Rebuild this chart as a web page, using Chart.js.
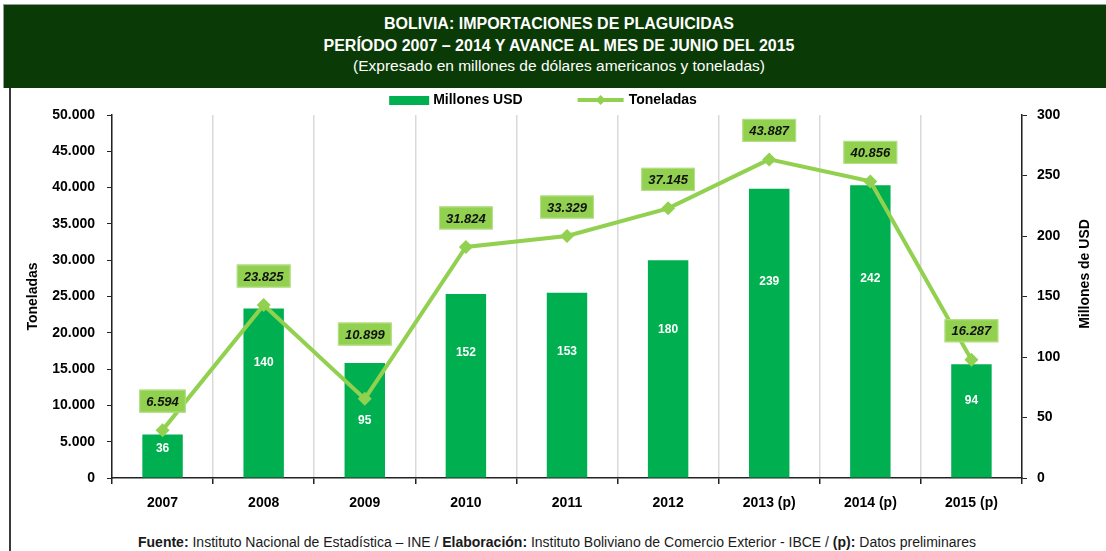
<!DOCTYPE html>
<html>
<head>
<meta charset="utf-8">
<script src="https://cdn.jsdelivr.net/npm/chart.js@4.4.1/dist/chart.umd.min.js"></script>
<style>
  body { margin: 0; background: #fff; font-family: 'Liberation Sans', Arial, sans-serif; }
  .page { position: relative; width: 1106px; height: 551px; overflow: hidden; }
  .header {
    position: absolute; left: 3px; top: 4px; width: 1110px; height: 83px;
    background: #0a3a05; color: #fff; text-align: center;
    border-top: 1px solid #9a9a9a; border-left: 1px solid #9a9a9a;
  }
  .header .t1 { font-weight: bold; font-size: 16px; margin-top: 8px; line-height: 22px; }
  .header .t2 { font-size: 15.5px; line-height: 18px; }
  .frame { position: absolute; left: 9px; top: 88px; width: 2px; height: 463px; background: #3a3a3a; }
  .chart-box { position: absolute; left: 0; top: 88px; width: 1106px; height: 430px; }
  .footer {
    position: absolute; left: 0; top: 534px; width: 1114px; text-align: center;
    font-size: 14px; color: #1a1a1a;
  }
</style>
</head>
<body>
<div class="page">
  <div class="header">
    <div class="t1">BOLIVIA: IMPORTACIONES DE PLAGUICIDAS<br>PERÍODO 2007 – 2014 Y AVANCE AL MES DE JUNIO DEL 2015</div>
    <div class="t2">(Expresado en millones de dólares americanos y toneladas)</div>
  </div>
  <div class="frame"></div>
  <div class="chart-box"><canvas id="plaguicidas-chart" width="1106" height="430"></canvas></div>
  <div class="footer"><b>Fuente:</b> Instituto Nacional de Estadística – INE / <b>Elaboración:</b> Instituto Boliviano de Comercio Exterior - IBCE / <b>(p):</b> Datos preliminares</div>
</div>

<script>
// data
var years = ['2007', '2008', '2009', '2010', '2011', '2012', '2013 (p)', '2014 (p)', '2015 (p)'];
var millonesUSD = [36, 140, 95, 152, 153, 180, 239, 242, 94];
var toneladas = [6594, 23825, 10899, 31824, 33329, 37145, 43887, 40856, 16287];
var toneladasTicks = [0, 5000, 10000, 15000, 20000, 25000, 30000, 35000, 40000, 45000, 50000];
var usdTicks = [0, 50, 100, 150, 200, 250, 300];

var FONT = "'Liberation Sans', Arial, sans-serif";
var barColor = '#00b050';
var lineColor = '#92d050';

function miles(v) {
  return String(v).replace(/\B(?=(\d{3})+(?!\d))/g, '.');
}

// value labels, legend and right title
var extras = {
  id: 'extras',
  afterDatasetsDraw: function(chart) {
    var ctx = chart.ctx;
    var bars = chart.getDatasetMeta(0).data;
    var points = chart.getDatasetMeta(1).data;
    var y1 = chart.scales.y1;

    ctx.save();
    ctx.textAlign = 'center';
    ctx.textBaseline = 'middle';

    // bar labels (pushed below the marker when it sits inside the bar)
    ctx.font = 'bold 12px ' + FONT;
    ctx.fillStyle = '#ffffff';
    bars.forEach(function(bar, i) {
      var v = millonesUSD[i];
      var ly = y1.getPixelForValue(v * 0.68);
      if (points[i].y > bar.y) ly = Math.max(ly, points[i].y + 22);
      ctx.fillText(String(v), bar.x, ly);
    });

    // line labels, kept above both the point and the bar
    ctx.font = 'italic bold 13px ' + FONT;
    points.forEach(function(pt, i) {
      var txt = miles(toneladas[i]);
      var w = ctx.measureText(txt).width + 14;
      var h = 23;
      var cy = Math.min(pt.y, bars[i].y) - 29;
      ctx.fillStyle = lineColor;
      ctx.fillRect(pt.x - w / 2, cy - h / 2, w, h);
      ctx.strokeStyle = '#b8e08c';
      ctx.lineWidth = 1;
      ctx.strokeRect(pt.x - w / 2 + 0.5, cy - h / 2 + 0.5, w - 1, h - 1);
      ctx.fillStyle = '#111';
      ctx.fillText(txt, pt.x, cy + 1);
    });
    ctx.restore();
  },
  afterDraw: function(chart) {
    var ctx = chart.ctx;
    var ds = chart.data.datasets;
    ctx.save();
    ctx.font = 'bold 14px ' + FONT;
    ctx.textBaseline = 'middle';
    ctx.textAlign = 'left';
    var w1 = ctx.measureText(ds[0].label).width;
    var w2 = ctx.measureText(ds[1].label).width;
    var total = 40 + 4 + w1 + 55 + 46 + 5 + w2;
    var x = 543 - total / 2;
    var y = 12;

    ctx.fillStyle = barColor;
    ctx.fillRect(x, y - 4, 40, 9);
    ctx.fillStyle = '#000';
    ctx.fillText(ds[0].label, x + 44, y);

    x += 44 + w1 + 55;
    ctx.strokeStyle = lineColor;
    ctx.lineWidth = 4;
    ctx.beginPath();
    ctx.moveTo(x, y);
    ctx.lineTo(x + 46, y);
    ctx.stroke();
    ctx.fillStyle = lineColor;
    ctx.beginPath();
    ctx.moveTo(x + 23, y - 5);
    ctx.lineTo(x + 28, y);
    ctx.lineTo(x + 23, y + 5);
    ctx.lineTo(x + 18, y);
    ctx.closePath();
    ctx.fill();
    ctx.fillStyle = '#000';
    ctx.fillText(ds[1].label, x + 51, y);

    // right axis title (reads bottom to top)
    ctx.translate(1085, 186);
    ctx.rotate(-Math.PI / 2);
    ctx.textAlign = 'center';
    ctx.fillText('Millones de USD', 0, 0);
    ctx.restore();
  }
};

(function() {
  var canvas = document.getElementById('plaguicidas-chart');
  new Chart(canvas, {
    type: 'bar',
    data: {
      labels: years,
      datasets: [
        {
          label: 'Millones USD',
          data: millonesUSD,
          yAxisID: 'y1',
          backgroundColor: barColor,
          barPercentage: 0.4,
          categoryPercentage: 1,
          order: 2
        },
        {
          label: 'Toneladas',
          type: 'line',
          data: toneladas,
          yAxisID: 'y',
          borderColor: lineColor,
          borderWidth: 4,
          backgroundColor: lineColor,
          pointStyle: 'rectRot',
          pointRadius: 7,
          pointBackgroundColor: lineColor,
          pointBorderWidth: 0,
          tension: 0,
          order: 1
        }
      ]
    },
    options: {
      responsive: false,
      animation: false,
      devicePixelRatio: 1,
      layout: { padding: { left: 22, top: 27, right: 0, bottom: 0 } },
      plugins: {
        legend: { display: false },
        tooltip: { enabled: false }
      },
      scales: {
        x: {
          offset: true,
          grid: { offset: true, color: '#d9d9d9', lineWidth: 1.5, tickLength: 6, tickColor: '#222' },
          border: { color: '#222', width: 1.5 },
          ticks: { color: '#000', font: { family: FONT, size: 14, weight: 'bold' }, padding: 11 },
          afterFit: function(scale) { scale.height = 40; }
        },
        y: {
          position: 'left',
          min: 0,
          max: 50000,
          afterBuildTicks: function(scale) {
            scale.ticks = toneladasTicks.map(function(v) { return { value: v }; });
          },
          grid: { drawOnChartArea: false, tickLength: 5, tickColor: '#222' },
          border: { color: '#222', width: 1.5 },
          ticks: {
            color: '#000',
            font: { family: FONT, size: 14, weight: 'bold' },
            padding: 12,
            callback: function(v) { return miles(v); }
          },
          title: { display: true, text: 'Toneladas', color: '#000', font: { family: FONT, size: 14, weight: 'bold' }, padding: 3 },
          afterFit: function(scale) { scale.width = 90; }
        },
        y1: {
          position: 'right',
          min: 0,
          max: 300,
          afterBuildTicks: function(scale) {
            scale.ticks = usdTicks.map(function(v) { return { value: v }; });
          },
          grid: { drawOnChartArea: false, tickLength: 5, tickColor: '#222' },
          border: { color: '#222', width: 1.5 },
          ticks: { color: '#000', font: { family: FONT, size: 14, weight: 'bold' }, padding: 10 },
          afterFit: function(scale) { scale.width = 84; }
        }
      }
    },
    plugins: [extras]
  });
})();
</script>
</body>
</html>
